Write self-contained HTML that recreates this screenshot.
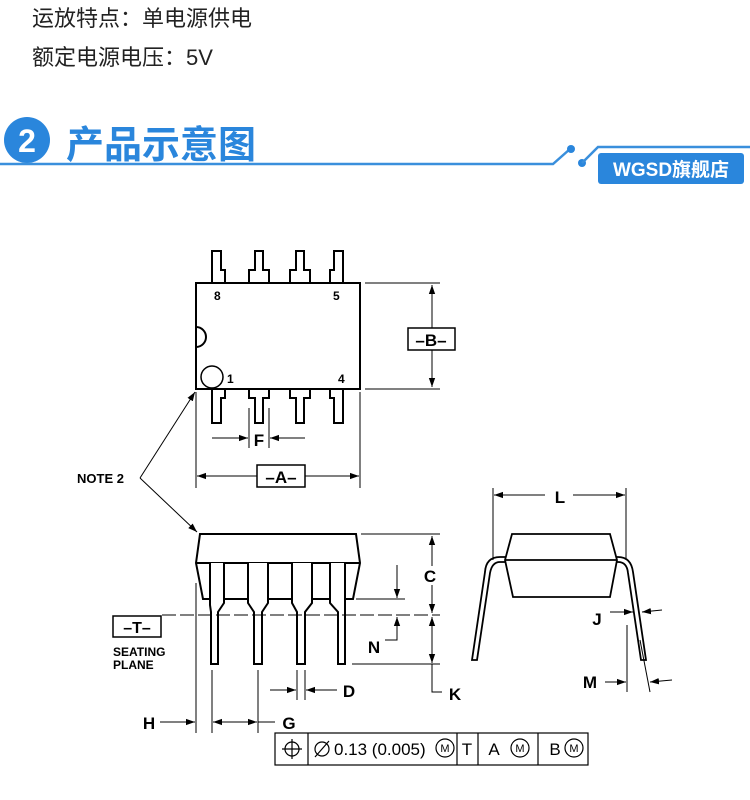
<!DOCTYPE html>
<html><head><meta charset="utf-8"><style>
html,body{margin:0;padding:0;background:#fff;}
svg{display:block;}
</style></head><body>
<svg width="750" height="800" viewBox="0 0 750 800" xmlns="http://www.w3.org/2000/svg" font-family="Liberation Sans, Arial, sans-serif">
<defs>
<marker id="ar" viewBox="0 0 10 10" refX="10" refY="5" markerWidth="9" markerHeight="9" orient="auto-start-reverse" markerUnits="userSpaceOnUse"><path d="M0,1.5 L10,5 L0,8.5 Z" fill="#000"/></marker>
</defs>
<text x="32" y="26" font-size="22" fill="#222" font-family="Liberation Sans, Noto Sans CJK SC, sans-serif">运放特点：单电源供电</text>
<text x="32" y="65" font-size="22" fill="#222" font-family="Liberation Sans, Noto Sans CJK SC, sans-serif">额定电源电压：5V</text>

<!-- header -->
<circle cx="27" cy="140" r="23" fill="#2a86dc"/>
<text x="27" y="152" font-size="32" font-weight="bold" fill="#fff" text-anchor="middle">2</text>
<text x="66" y="158" font-size="38" font-weight="bold" fill="#2a86dc" font-family="Noto Sans CJK SC, sans-serif">产品示意图</text>
<polyline points="0,164 553,164 570,149" fill="none" stroke="#3a8fdc" stroke-width="2.5"/>
<circle cx="571" cy="149" r="4" fill="#2a86dc"/>
<circle cx="582" cy="163" r="4" fill="#2a86dc"/>
<polyline points="582,163 598,147 750,147" fill="none" stroke="#3a8fdc" stroke-width="2.5"/>
<rect x="598" y="153" width="146" height="31" rx="3" fill="#2a86dc"/>
<text x="671" y="176" font-size="19" font-weight="bold" fill="#fff" text-anchor="middle" font-family="Liberation Sans, Noto Sans CJK SC, sans-serif">WGSD旗舰店</text>

<g stroke="#000" fill="#fff" stroke-width="2">
<path d="M212,283 V251 H221 V270 H225 V283"/>
<path d="M249,283 V270 H255 V251 H263 V270 H269 V283"/>
<path d="M290,283 V270 H296 V251 H304 V270 H310 V283"/>
<path d="M330,283 V270 H334 V251 H343 V283"/>
<path d="M212,389 V423 H221 V398 H225 V389"/>
<path d="M249,389 V398 H255 V423 H263 V398 H269 V389"/>
<path d="M290,389 V398 H296 V423 H304 V398 H310 V389"/>
<path d="M330,389 V398 H334 V423 H343 V389"/>
<rect x="196" y="283" width="164" height="106"/>
<path d="M196,327 A10,10 0 0 1 196,347" fill="none"/>
<circle cx="212" cy="377" r="11" stroke-width="1.5"/>
</g>
<g font-weight="bold" font-size="12" fill="#000">
<text x="214" y="300">8</text><text x="333" y="300">5</text>
<text x="227" y="383">1</text><text x="338" y="383">4</text>
</g>

<g stroke="#000" stroke-width="1" fill="none">
<line x1="365" y1="283" x2="440" y2="283"/><line x1="365" y1="389" x2="440" y2="389"/>
<line x1="432" y1="285" x2="432" y2="328" marker-start="url(#ar)"/>
<line x1="432" y1="350" x2="432" y2="387" marker-end="url(#ar)"/>
<line x1="249" y1="408" x2="249" y2="448"/><line x1="269" y1="408" x2="269" y2="448"/>
<line x1="212" y1="438" x2="248" y2="438" marker-end="url(#ar)"/>
<line x1="305" y1="438" x2="270" y2="438" marker-end="url(#ar)"/>
<line x1="196" y1="392" x2="196" y2="488"/><line x1="360" y1="392" x2="360" y2="488"/>
<line x1="257" y1="476" x2="197" y2="476" marker-end="url(#ar)"/>
<line x1="305" y1="476" x2="359" y2="476" marker-end="url(#ar)"/>
<line x1="140" y1="478" x2="195" y2="392" marker-end="url(#ar)"/>
<line x1="140" y1="478" x2="197" y2="532" marker-end="url(#ar)"/>
</g>
<g stroke="#000" stroke-width="1.5" fill="#fff">
<rect x="408" y="328" width="47" height="22"/>
<rect x="257" y="465" width="48" height="22"/>
<rect x="113" y="616" width="48" height="21"/>
</g>
<g font-weight="bold" fill="#000">
<text x="431" y="346" font-size="17" text-anchor="middle">–B–</text>
<text x="281" y="483" font-size="17" text-anchor="middle">–A–</text>
<text x="259" y="446" font-size="17" text-anchor="middle">F</text>
<text x="77" y="483" font-size="13">NOTE 2</text>
<text x="137" y="633" font-size="16" text-anchor="middle">–T–</text>
<text x="113" y="656" font-size="12">SEATING</text>
<text x="113" y="669" font-size="12">PLANE</text>
<text x="430" y="582" font-size="17" text-anchor="middle">C</text>
<text x="374" y="653" font-size="17" text-anchor="middle">N</text>
<text x="455" y="700" font-size="17" text-anchor="middle">K</text>
<text x="349" y="697" font-size="17" text-anchor="middle">D</text>
<text x="149" y="729" font-size="17" text-anchor="middle">H</text>
<text x="289" y="729" font-size="17" text-anchor="middle">G</text>
<text x="560" y="503" font-size="17" text-anchor="middle">L</text>
<text x="597" y="625" font-size="17" text-anchor="middle">J</text>
<text x="590" y="688" font-size="17" text-anchor="middle">M</text>
</g>

<g stroke="#000" stroke-width="2" fill="#fff">
<polygon points="200,534 356,534 360,563 353,599 203,599 196,563"/>
<line x1="196" y1="563" x2="360" y2="563"/>
<path d="M210,563 V605 L211,612 V664 H218 V612 L224,603 V563"/>
<path d="M248,563 V603 L254,612 V664 H262 V612 L268,603 V563"/>
<path d="M292,563 V603 L297,612 V664 H305 V612 L312,603 V563"/>
<path d="M330,563 V603 L338,612 V664 H345 V563"/>
</g>
<g stroke="#000" stroke-width="1" fill="none">
<line x1="361" y1="534" x2="440" y2="534"/>
<line x1="432" y1="536" x2="432" y2="566" marker-start="url(#ar)"/>
<line x1="432" y1="585" x2="432" y2="613" marker-end="url(#ar)"/>
<line x1="356" y1="599" x2="405" y2="599"/>
<line x1="397" y1="565" x2="397" y2="598" marker-end="url(#ar)"/>
<line x1="162" y1="615" x2="440" y2="615" stroke-dasharray="14,4"/>
<polyline points="385,640 397,640 397,617" marker-end="url(#ar)"/>
<line x1="352" y1="664" x2="440" y2="664"/>
<line x1="432" y1="617" x2="432" y2="663" marker-start="url(#ar)" marker-end="url(#ar)"/>
<polyline points="432,664 432,692 442,692"/>
<line x1="297" y1="670" x2="297" y2="700"/><line x1="305" y1="670" x2="305" y2="700"/>
<line x1="270" y1="690" x2="296" y2="690" marker-end="url(#ar)"/>
<line x1="337" y1="690" x2="306" y2="690" marker-end="url(#ar)"/>
<line x1="196" y1="583" x2="196" y2="733"/>
<line x1="212" y1="670" x2="212" y2="733"/><line x1="258" y1="670" x2="258" y2="733"/>
<line x1="160" y1="722" x2="195" y2="722" marker-end="url(#ar)"/>
<line x1="213" y1="722" x2="257" y2="722" marker-start="url(#ar)" marker-end="url(#ar)"/>
<line x1="258" y1="722" x2="275" y2="722"/>
</g>

<g stroke="#000" stroke-width="1.2" fill="none">
<rect x="275" y="733" width="313" height="32"/>
<line x1="308" y1="733" x2="308" y2="765"/>
<line x1="457" y1="733" x2="457" y2="765"/>
<line x1="478" y1="733" x2="478" y2="765"/>
<line x1="538" y1="733" x2="538" y2="765"/>
<circle cx="292" cy="749" r="7"/>
<line x1="292" y1="739" x2="292" y2="759"/><line x1="282" y1="749" x2="302" y2="749"/>
<circle cx="322" cy="749" r="7"/><line x1="315" y1="757" x2="329" y2="741"/>
<circle cx="445" cy="748" r="9"/>
<circle cx="520" cy="748" r="9"/>
<circle cx="574" cy="748" r="9"/>
</g>
<g fill="#000" font-size="17">
<text x="334" y="755">0.13 (0.005)</text>
<text x="467" y="755" text-anchor="middle">T</text>
<text x="494" y="755" text-anchor="middle">A</text>
<text x="555" y="755" text-anchor="middle">B</text>
<text x="445" y="752" font-size="11" text-anchor="middle">M</text>
<text x="520" y="752" font-size="11" text-anchor="middle">M</text>
<text x="574" y="752" font-size="11" text-anchor="middle">M</text>
</g>

<g stroke="#000" stroke-width="1.8" fill="#fff">
<path d="M477,660 L490,573 Q492,562 500,562 L618,562 Q627,562 628,573 L641,660 L646,660 L633,572 Q631,557 618,557 L500,557 Q486,557 485,572 L472,660 Z"/>
<polygon points="512,534 610,534 617,560 610,597 513,597 505,560"/>
<line x1="505" y1="560" x2="617" y2="560"/>
</g>
<g stroke="#000" stroke-width="1" fill="none">
<line x1="493" y1="488" x2="493" y2="560"/><line x1="626" y1="488" x2="626" y2="560"/>
<line x1="545" y1="495" x2="494" y2="495" marker-end="url(#ar)"/>
<line x1="573" y1="495" x2="625" y2="495" marker-end="url(#ar)"/>
<line x1="610" y1="612" x2="633" y2="612" marker-end="url(#ar)"/>
<line x1="662" y1="610" x2="642" y2="612" marker-end="url(#ar)"/>
<line x1="627" y1="625" x2="627" y2="692"/>
<line x1="640" y1="640" x2="650" y2="692"/>
<line x1="605" y1="682" x2="626" y2="682" marker-end="url(#ar)"/>
<line x1="672" y1="680" x2="650" y2="682" marker-end="url(#ar)"/>
</g>
</svg>
</body></html>
